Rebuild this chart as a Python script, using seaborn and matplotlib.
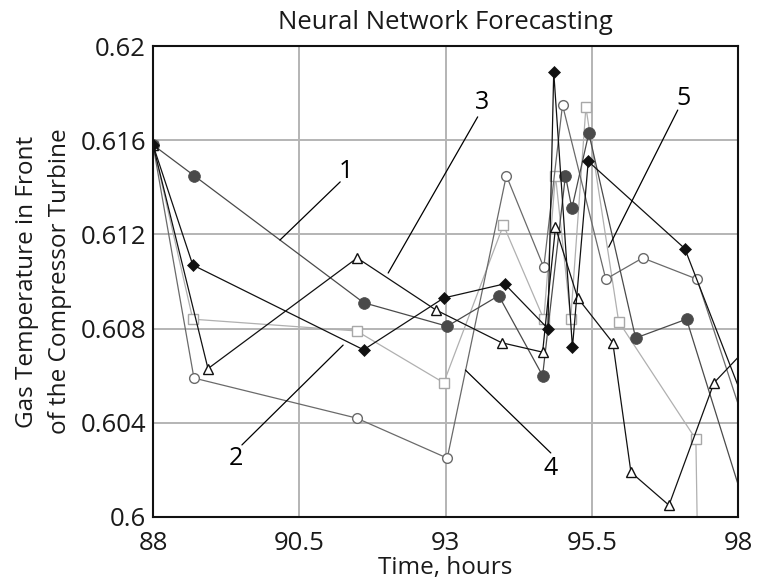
import matplotlib
matplotlib.use("Agg")
import matplotlib.pyplot as plt
import seaborn as sns
import pandas as pd

# ---- data ----
s1_x = [88.0, 88.7, 91.6, 93.03, 93.91, 94.66, 95.05, 95.16, 95.45, 96.25, 97.12, 98.2]
s1_y = [0.6158, 0.6145, 0.6091, 0.6081, 0.6094, 0.6060, 0.6145, 0.6131, 0.6163, 0.6076, 0.6084, 0.5998]

s2_x = [88.0, 88.68, 91.6, 92.97, 94.01, 94.75, 94.85, 95.17, 95.44, 97.09, 98.2]
s2_y = [0.6158, 0.6107, 0.6071, 0.6093, 0.6099, 0.6080, 0.6189, 0.6072, 0.6151, 0.6114, 0.6043]

s3_x = [88.0, 88.94, 91.49, 92.83, 93.96, 94.66, 94.88, 95.26, 95.86, 96.17, 96.82, 97.59, 98.2]
s3_y = [0.6158, 0.6063, 0.6110, 0.6088, 0.6074, 0.6070, 0.6123, 0.6093, 0.6074, 0.6019, 0.6005, 0.6057, 0.6073]

s4_x = [88.0, 88.7, 91.48, 93.03, 94.04, 94.68, 95.0, 95.74, 96.37, 97.3, 98.2]
s4_y = [0.6158, 0.6059, 0.6042, 0.6025, 0.6145, 0.6106, 0.6175, 0.6101, 0.6110, 0.6101, 0.6033]

s5_x = [88.0, 88.68, 91.48, 92.97, 93.99, 94.68, 94.88, 95.14, 95.40, 95.96, 97.28, 97.32]
s5_y = [0.6158, 0.6084, 0.6079, 0.6057, 0.6124, 0.6084, 0.6145, 0.6084, 0.6174, 0.6083, 0.6033, 0.5970]

x_ticks = [88, 90.5, 93, 95.5, 98]
y_ticks = [0.6, 0.604, 0.608, 0.612, 0.616, 0.62]
y_tick_labels = ["0.6", "0.604", "0.608", "0.612", "0.616", "0.62"]

labels = ["1", "2", "3", "4", "5"]
label_text_pos = [(91.29, 0.61465), (89.42, 0.6025), (93.63, 0.61762), (94.80, 0.60208), (97.06, 0.61779)]
label_line_start = [(91.20, 0.61423), (89.52, 0.60306), (93.55, 0.61699), (94.80, 0.60272), (96.97, 0.61728)]
label_line_end = [(90.17, 0.61176), (91.25, 0.60730), (92.02, 0.61036), (93.34, 0.60624), (95.79, 0.61146)]

sns.set_theme(style="white")
plt.rcParams["font.family"] = ["Open Sans", "DejaVu Sans"]

fig = plt.figure(figsize=(7.57, 5.85), dpi=100)
ax = fig.add_axes([153 / 757, 1 - 517 / 585, (738 - 153) / 757, (517 - 46) / 585])

common = dict(ax=ax, sort=False, estimator=None, linewidth=0.9)

sns.lineplot(x=s5_x, y=s5_y, color="#b0b0b0", marker="s", markersize=7,
             markerfacecolor="white", markeredgecolor="#a8a8a8", markeredgewidth=1.0, **common)
sns.lineplot(x=s4_x, y=s4_y, color="#6a6a6a", marker="o", markersize=7,
             markerfacecolor="white", markeredgecolor="#6a6a6a", markeredgewidth=1.0, **common)
sns.lineplot(x=s1_x, y=s1_y, color="#4a4a4a", marker="o", markersize=8.5,
             markerfacecolor="#4a4a4a", markeredgecolor="#4a4a4a", markeredgewidth=0.5, **common)
sns.lineplot(x=s3_x, y=s3_y, color="#111111", marker="^", markersize=7.5,
             markerfacecolor="white", markeredgecolor="#111111", markeredgewidth=1.0, **common)
sns.lineplot(x=s2_x, y=s2_y, color="#111111", marker="D", markersize=6,
             markerfacecolor="#111111", markeredgecolor="#111111", markeredgewidth=0.5, **common)

for lab, tp, ls, le in zip(labels, label_text_pos, label_line_start, label_line_end):
    ax.plot([ls[0], le[0]], [ls[1], le[1]], color="black", linewidth=0.9, zorder=5)
    ax.text(tp[0], tp[1], lab, ha="center", va="center", fontsize=18, color="black", zorder=6)

ax.set_xlim(88, 98)
ax.set_ylim(0.6, 0.62)
ax.set_xticks(x_ticks)
ax.set_xticklabels([("%g" % v) for v in x_ticks])
ax.set_yticks(y_ticks)
ax.set_yticklabels(y_tick_labels)
ax.tick_params(axis="both", length=0, labelsize=18.5, colors="#1a1a1a")
ax.tick_params(axis="y", pad=5)
ax.tick_params(axis="x", pad=10)
ax.grid(True, color="#b4b4b4", linewidth=1.4)
ax.set_axisbelow(True)
for sp in ax.spines.values():
    sp.set_color("#111111")
    sp.set_linewidth(1.5)

ax.set_title("Neural Network Forecasting", fontsize=18.5, color="#1a1a1a", pad=12)
ax.set_xlabel("Time, hours", fontsize=17.5, color="#1a1a1a", labelpad=0)
ax.set_ylabel("Gas Temperature in Front\nof the Compressor Turbine", fontsize=17.5,
              color="#1a1a1a", labelpad=6, linespacing=1.5)

fig.savefig("out.png", dpi=100)
